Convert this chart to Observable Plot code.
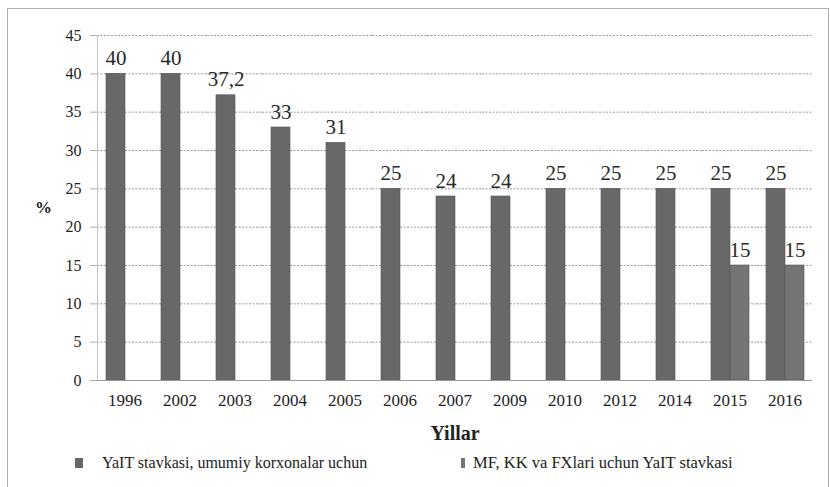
<!DOCTYPE html>
<html>
<head>
<meta charset="utf-8">
<script src="https://cdn.jsdelivr.net/npm/d3@7"></script>
<script src="https://cdn.jsdelivr.net/npm/@observablehq/plot@0.6"></script>
<style>
  body { margin: 0; background: #fff; }
  #wrap { position: relative; width: 830px; height: 487px; overflow: hidden; font-family: 'Liberation Serif', 'Times New Roman', 'DejaVu Serif', serif; color: #222; }
  #frame { position: absolute; left: 7px; top: 8px; width: 822px; height: 500px; border: 1px solid #b0b0b0; box-sizing: border-box; }
  #chart { position: absolute; left: 0; top: 0; }
  #chart svg, #chart svg text { font-family: 'Liberation Serif', 'Times New Roman', 'DejaVu Serif', serif; }
  #ylab { position: absolute; left: 35px; top: 198px; font-weight: bold; font-size: 17px; }
  .leg { position: absolute; top: 453px; display: flex; align-items: center; white-space: nowrap; line-height: 20px; }
  .sw { display: inline-block; background: #6e6e6e; }
  g[aria-label="fx-axis label"], g[aria-label="fx-axis label"] text { font-weight: bold; font-size: 20px; }
</style>
</head>
<body>
<div id="wrap">
  <div id="frame"></div>
  <div id="chart"></div>
  <div id="ylab">%</div>
  <div id="legend"></div>
</div>
<script>
// ---- data ----
const years = ["1996", "2002", "2003", "2004", "2005", "2006", "2007", "2009", "2010", "2012", "2014", "2015", "2016"];
const generalRate = [40, 40, 37.2, 33, 31, 25, 24, 24, 25, 25, 25, 25, 25];
const smallRate = [null, null, null, null, null, null, null, null, null, null, null, 15, 15];
const seriesNames = ["YaIT stavkasi, umumiy korxonalar uchun", "MF, KK va FXlari uchun YaIT stavkasi"];
const yTicks = [0, 5, 10, 15, 20, 25, 30, 35, 40, 45];
const xTitle = "Yillar";

// ---- table ----
const rows = [];
years.forEach((y, i) => {
  if (generalRate[i] != null) rows.push({year: y, series: seriesNames[0], value: generalRate[i]});
  if (smallRate[i] != null) rows.push({year: y, series: seriesNames[1], value: smallRate[i]});
});
const fmt = v => String(v).replace(".", ",");
const colors = ["#686868", "#747474"];

const chart = Plot.plot({
  width: 830,
  height: 450,
  marginLeft: 95,
  marginRight: 17,
  marginTop: 35,
  marginBottom: 70,
  style: {fontSize: "16px", color: "#222", background: "transparent", overflow: "visible"},
  fx: {domain: years, padding: 0},
  x: {domain: seriesNames, paddingInner: 0, paddingOuter: 0.42, axis: null},
  y: {domain: [0, 45]},
  color: {domain: seriesNames, range: colors},
  marks: [
    Plot.gridY(yTicks.slice(1), {stroke: "#808080", strokeOpacity: 0.9, strokeDasharray: "2,1.5", strokeWidth: 0.9}),
    Plot.frame({anchor: "left", stroke: "#c4c4c4", facet: "super"}),
    Plot.barY(rows, {fx: "year", x: "series", y: "value", fill: "series", stroke: "#555", strokeWidth: 0.6}),
    Plot.ruleY([0], {stroke: "#9a9a9a", strokeWidth: 1}),
    Plot.text(rows, {fx: "year", x: "series", y: "value", text: d => fmt(d.value), lineAnchor: "bottom", dy: -9, fontSize: 21, fill: "#2a2a2a"}),
    Plot.axisY({ticks: yTicks, tickSize: 7, tickPadding: 9, stroke: "#aaa", fill: "#222", fontSize: 16, label: null}),
    Plot.axisFx({anchor: "bottom", tickSize: 0, tickPadding: 13, fontSize: 17, fill: "#222", label: xTitle, labelAnchor: "center", labelOffset: 59, labelArrow: "none"})
  ]
});
document.getElementById("chart").appendChild(chart);

// ---- legend ----
const legend = document.getElementById("legend");
const legItems = [
  {left: 75, sw: [8, 10], gap: 19, size: 16},
  {left: 461, sw: [4, 10], gap: 8, size: 16.5}
];
seriesNames.forEach((name, i) => {
  const it = legItems[i];
  const d = document.createElement("div");
  d.className = "leg";
  d.style.left = it.left + "px";
  d.style.fontSize = it.size + "px";
  const s = document.createElement("span");
  s.className = "sw";
  s.style.width = it.sw[0] + "px";
  s.style.height = it.sw[1] + "px";
  s.style.background = colors[i];
  s.style.marginRight = it.gap + "px";
  d.appendChild(s);
  d.appendChild(document.createTextNode(name));
  legend.appendChild(d);
});
</script>
</body>
</html>
